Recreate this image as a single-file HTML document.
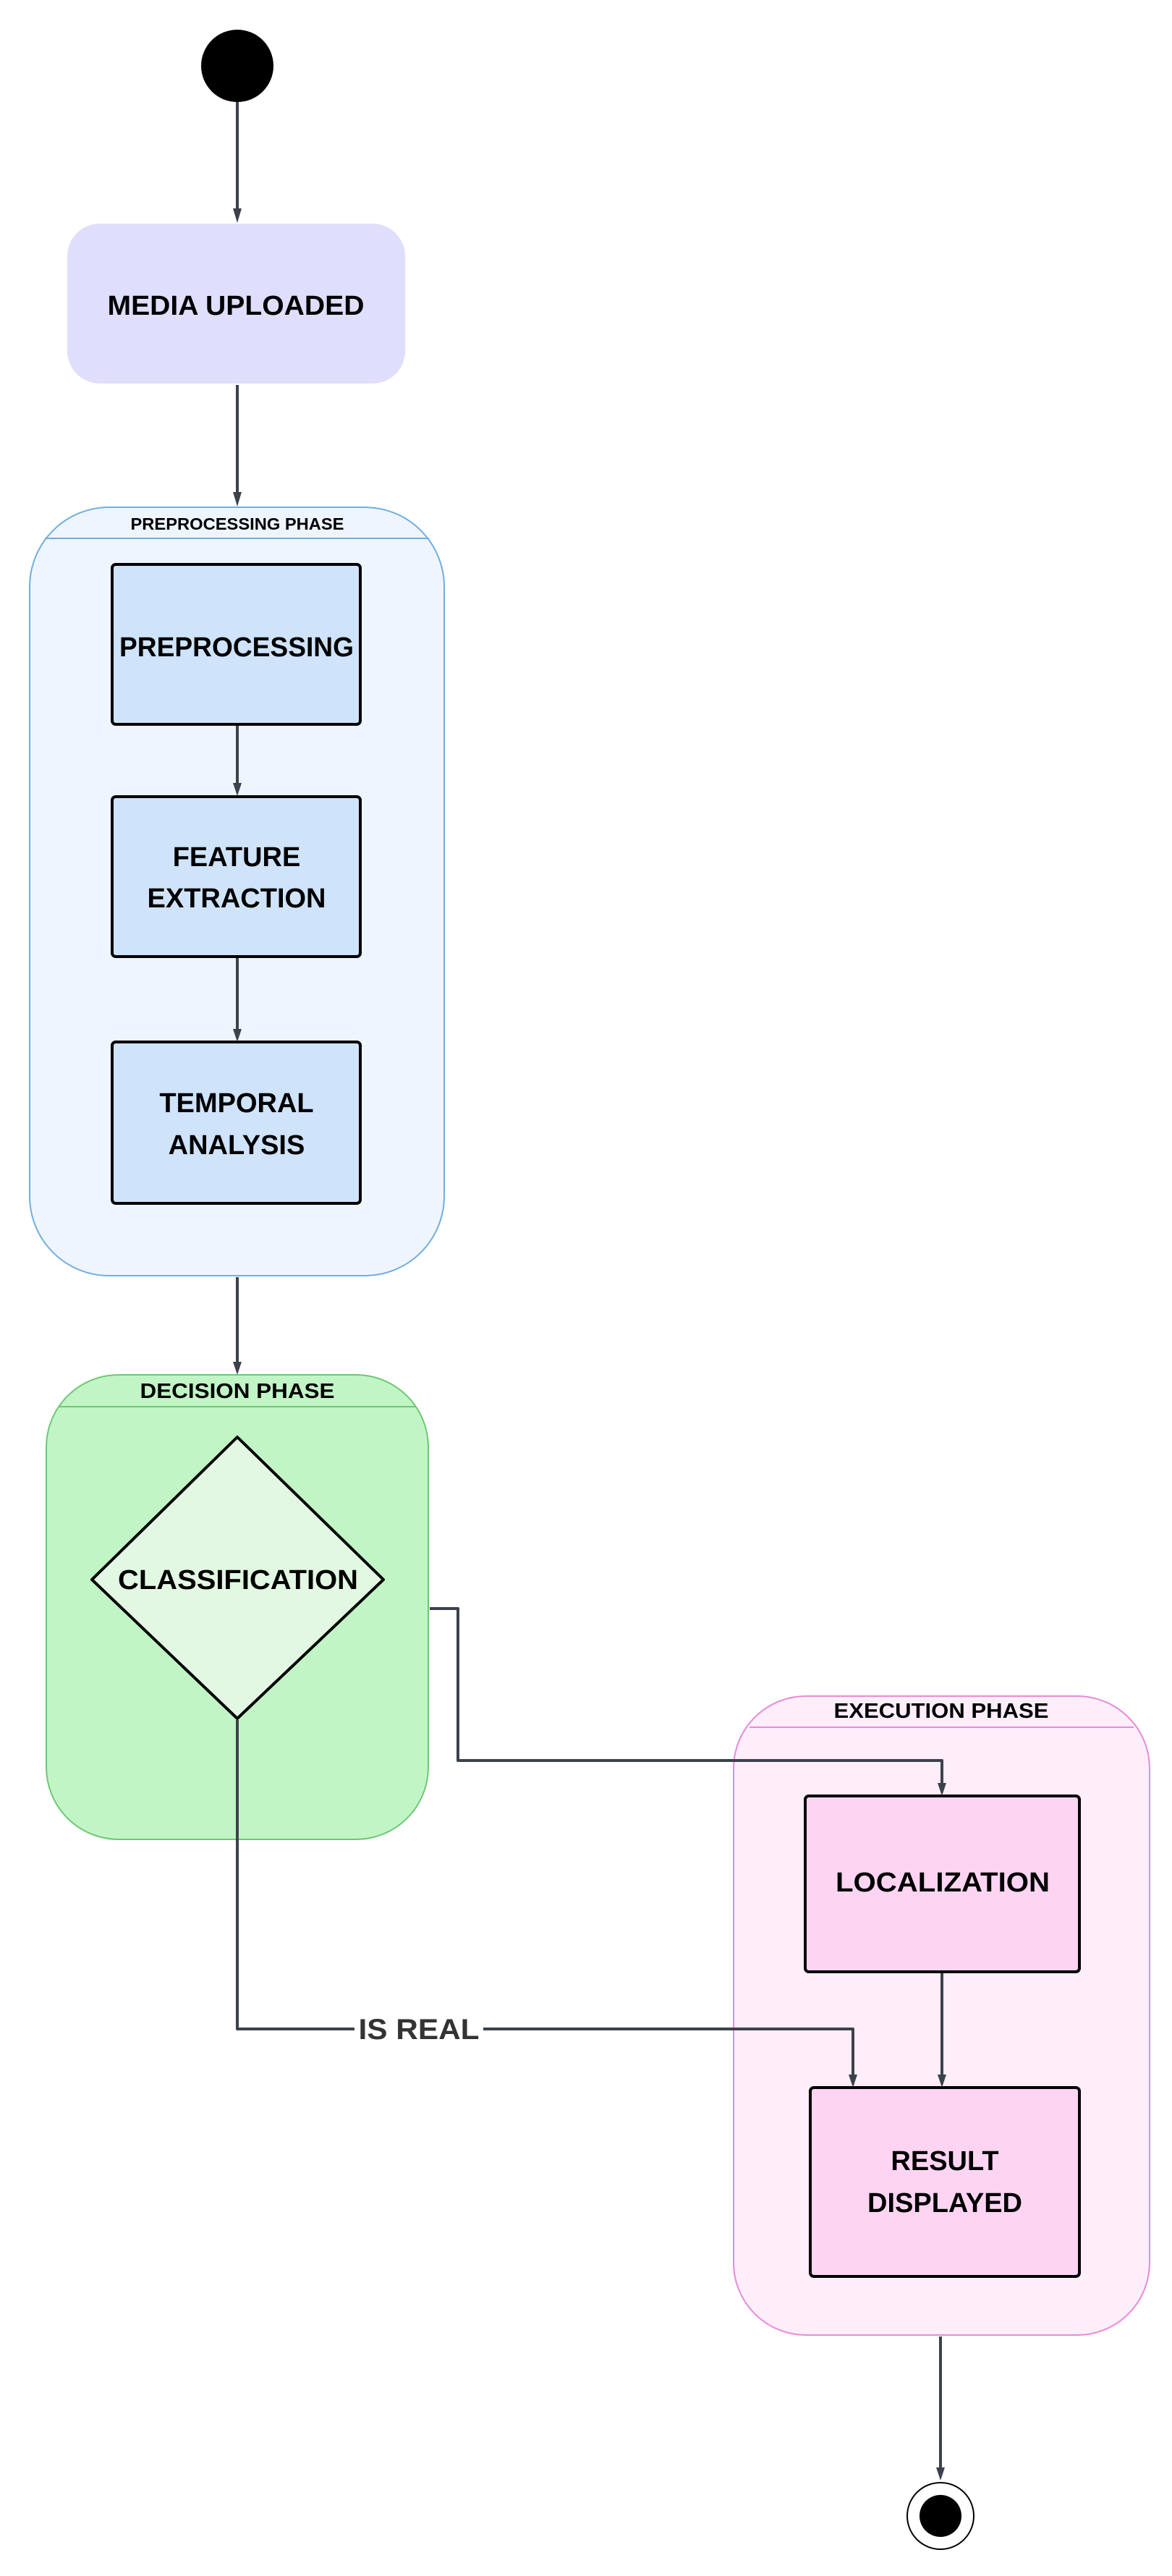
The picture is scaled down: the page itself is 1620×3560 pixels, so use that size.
<!DOCTYPE html>
<html><head><meta charset="utf-8"><style>html,body{margin:0;padding:0;background:#fff}svg{display:block}</style></head>
<body>
<svg width="1620" height="3560" viewBox="0 0 1620 3560" xmlns="http://www.w3.org/2000/svg" font-family="Liberation Sans, Arial, sans-serif" font-weight="bold">
<defs>
<marker id="a" markerWidth="10" markerHeight="10" refX="5" refY="8" orient="auto" markerUnits="userSpaceOnUse" viewBox="0 0 10 10">
<path d="M0,0 L10,0 L5,10 Z" fill="#3c424b"/></marker>
</defs>
<g stroke="#3c424b" stroke-width="4" fill="none">
<line x1="328" y1="140" x2="328" y2="300"/>
<path d="M322,288 L334,288 L328,308 Z" fill="#3c424b" stroke="none"/>
<line x1="328" y1="532" x2="328" y2="690"/>
<path d="M322,680 L334,680 L328,700 Z" fill="#3c424b" stroke="none"/>
</g>
<circle cx="328" cy="91" r="50" fill="#000"/>
<rect x="93" y="309" width="467" height="221" rx="45" fill="#dfdefc"/>
<text x="326" y="435" font-size="38" text-anchor="middle" textLength="355" lengthAdjust="spacingAndGlyphs">MEDIA UPLOADED</text>

<rect x="41" y="701" width="573" height="1062" rx="110" fill="#eef5fe" stroke="#72aee0" stroke-width="2"/>
<line x1="62" y1="744" x2="593" y2="744" stroke="#72aee0" stroke-width="2"/>
<text x="328" y="732" font-size="23" text-anchor="middle" textLength="295" lengthAdjust="spacingAndGlyphs">PREPROCESSING PHASE</text>

<g fill="#cfe3fb" stroke="#000" stroke-width="4">
<rect x="155" y="780" width="343" height="221" rx="5"/>
<rect x="155" y="1101" width="343" height="221" rx="5"/>
<rect x="155" y="1440" width="343" height="223" rx="5"/>
</g>
<g stroke="#3c424b" stroke-width="4">
<line x1="328" y1="1003" x2="328" y2="1090"/>
<line x1="328" y1="1324" x2="328" y2="1430"/>
<line x1="328" y1="1765" x2="328" y2="1890"/>
</g>
<g fill="#3c424b">
<path d="M322,1082 L334,1082 L328,1100 Z"/>
<path d="M322,1422 L334,1422 L328,1440 Z"/>
<path d="M322,1882 L334,1882 L328,1900 Z"/>
</g>
<g font-size="38" text-anchor="middle">
<text x="327" y="907" textLength="324" lengthAdjust="spacingAndGlyphs">PREPROCESSING</text>
<text x="327" y="1197">FEATURE</text>
<text x="327" y="1254">EXTRACTION</text>
<text x="327" y="1537">TEMPORAL</text>
<text x="327" y="1595">ANALYSIS</text>
</g>

<rect x="64" y="1900" width="528" height="642" rx="100" fill="#c2f5c6" stroke="#6cc873" stroke-width="2"/>
<line x1="82" y1="1944" x2="574" y2="1944" stroke="#6cc873" stroke-width="2"/>
<text x="328" y="1932" font-size="29" text-anchor="middle" textLength="269" lengthAdjust="spacingAndGlyphs">DECISION  PHASE</text>
<path d="M328,1986 L530,2183 L328,2375 L127,2183 Z" fill="#e2f8e2" stroke="#000" stroke-width="4" stroke-linejoin="round"/>
<text x="329" y="2196" font-size="38" text-anchor="middle" textLength="332" lengthAdjust="spacingAndGlyphs">CLASSIFICATION</text>

<rect x="1014" y="2344" width="575" height="883" rx="100" fill="#fdeefa" stroke="#e88ad8" stroke-width="2"/>
<line x1="1036" y1="2387" x2="1567" y2="2387" stroke="#e88ad8" stroke-width="2"/>
<text x="1301" y="2374" font-size="29" text-anchor="middle" textLength="297" lengthAdjust="spacingAndGlyphs">EXECUTION PHASE</text>

<g fill="#fdd5f3" stroke="#000" stroke-width="4">
<rect x="1113" y="2482" width="379" height="243" rx="5"/>
<rect x="1120" y="2885" width="372" height="261" rx="5"/>
</g>
<g font-size="38" text-anchor="middle">
<text x="1303" y="2614" textLength="296" lengthAdjust="spacingAndGlyphs">LOCALIZATION</text>
<text x="1306" y="2999">RESULT</text>
<text x="1306" y="3057">DISPLAYED</text>
</g>

<g stroke="#3c424b" stroke-width="4" fill="none" stroke-linejoin="round">
<path d="M594,2223 L633,2223 L633,2433 L1302,2433 L1302,2470"/>
<path d="M328,2377 L328,2804 L490,2804"/>
<path d="M668,2804 L1179,2804 L1179,2872"/>
<line x1="1302" y1="2727" x2="1302" y2="2872"/>
<line x1="1300" y1="3229" x2="1300" y2="3415"/>
</g>
<g fill="#3c424b">
<path d="M1296,2464 L1308,2464 L1302,2482 Z"/>
<path d="M1173,2867 L1185,2867 L1179,2885 Z"/>
<path d="M1296,2867 L1308,2867 L1302,2885 Z"/>
<path d="M1294,3410 L1306,3410 L1300,3428 Z"/>
</g>
<text x="579" y="2818" font-size="40" fill="#333" text-anchor="middle" textLength="167" lengthAdjust="spacingAndGlyphs">IS REAL</text>

<circle cx="1300" cy="3477" r="46" fill="#fff" stroke="#000" stroke-width="2"/>
<circle cx="1300" cy="3477" r="29" fill="#000"/>
</svg>
</body></html>
